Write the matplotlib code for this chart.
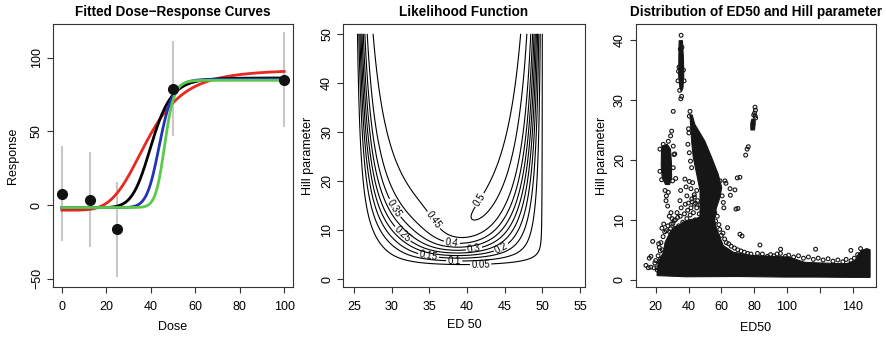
import numpy as np
import matplotlib
matplotlib.use("Agg")
import matplotlib.pyplot as plt

plt.rcParams['font.family'] = ['Liberation Sans', 'DejaVu Sans']

# observed dose-response data
dose = [0, 12.5, 25, 50, 100]
response = [7.8, 3.7, -16.5, 79.1, 85.2]
err_half = [32, 32, 32, 32, 32]

# fitted curves (bottom, top, ED50, Hill)
curve_colors = ['#E8291F', 'black', '#2233BB', '#5CC94A']
curve_bottom = [-3.5, -1.8, -1.8, -1.7]
curve_top = [92, 86.3, 85.5, 84.7]
curve_ed50 = [38.5, 40.5, 44.0, 46.3]
curve_hill = [4.5, 9, 15, 22]

# likelihood settings
lik_bottom = -2.0
lik_top = 86.0
lik_sigma = 17.0
lik_peak = 0.506
lik_levels = [0.05, 0.1, 0.15, 0.2, 0.25, 0.3, 0.35, 0.4, 0.45, 0.5]
label_pos = [(41.8, 3.0), (38.3, 3.65), (34.9, 4.8), (44.5, 6.5), (31.4, 9.1),
             (40.9, 6.4), (30.0, 14.1), (38.0, 7.6), (34.9, 11.3), (42.0, 15.8)]

# posterior sample distribution: dense cores (outlines) and sparse samples
core_a_x = [34.3, 36.3, 36.9, 37.1, 36.6, 35.7, 34.8, 34.0, 34.1]
core_a_y = [39.9, 39.9, 37, 34, 32, 31.4, 32, 34, 37]
core_b_x = [23.8, 27.0, 29.0, 29.6, 29.7, 28.5, 26.0, 24.0, 23.4, 23.5]
core_b_y = [22.3, 22.6, 21.8, 19.5, 17.0, 15.9, 15.9, 17.0, 19.0, 21.0]
core_c_x = [40.9, 42.2, 43.9, 47.0, 50.0, 54.1, 58.1, 60.2, 59.2, 57.0, 55.5, 47.0,
            47.0, 45.0, 42.9, 41.9]
core_c_y = [27.5, 27.5, 25.9, 24.5, 23.1, 20.4, 17.6, 15.4, 13.8, 12.0, 10.0, 10.0,
            14.9, 17.6, 20.4, 23.1]
core_d_x = [78.0, 80.2, 80.6, 80.3, 78.6, 77.9]
core_d_y = [25.0, 25.0, 26.0, 26.8, 26.8, 26.0]
core_e_x = [20.8, 38.5, 68.9, 97.7, 118, 138.3, 150.6, 150.6, 148.6, 145.5, 143.5, 141.4,
            136.4, 131, 111, 100.8, 83.5, 77.4, 67.3, 61.2, 57.1, 55.5,
            47.0, 44.5, 40.5, 36.4, 34.8, 31.5, 28.7, 25.7, 24.7, 21.5]
core_e_y = [0.7, 0.5, 0.55, 0.45, 0.45, 0.4, 0.4, 5.0, 5.2, 4.9, 4.3, 3.2,
            2.7, 2.7, 2.9, 3.8, 4.0, 4.1, 4.6, 5.7, 8.5, 10.5,
            10.5, 10.2, 10.0, 9.6, 9.2, 8.8, 7.9, 6.2, 4.6, 2.9]

ed50_pts = [35.5, 35.3, 33.6, 37.3, 36.9, 34.2, 33.9, 35.0, 36.0, 34.6, 35.8,
            # cluster around ED50 ~ 27
            30.7, 29.7, 29.1, 27.7, 22.6, 24.6, 30.7, 31.1, 30.7, 30.3, 25.7,
            27.7, 26.3, 23.6, 22.6, 37.8, 35.2, 34.8, 31.6, 32.2, 27.3, 26.5,
            # left edge of the diagonal band
            40.9, 40.5, 40.5, 41.9, 42.5, 45.0, 43.6, 40.2, 41.2, 39.0, 38.5,
            42.2, 44.2, 41.5, 40.5, 43.5, 39.6, 40.0,
            # right of the band, towards the ED50 ~ 80 cluster
            59.2, 62.2, 65.3, 68.3, 71.3, 69.7, 74.8, 76.4, 75.7, 62.8, 61.2,
            65.5, 68.9, 70.1, 63.8, 71.3, 72.6, 60.5, 61.5,
            80.5, 80.8, 80.2, 80.6, 79.7, 80.9, 79.4,
            # above the main mass
            26.5, 27.5, 28.5, 29.5, 30.0, 31.5, 32.0, 33.0, 34.0, 35.0, 35.5,
            36.5, 37.5, 38.0, 39.0, 39.5, 40.0, 41.0, 41.5, 42.0, 43.0, 43.5,
            44.0, 45.0, 45.5, 46.5, 47.0, 48.0, 52.0, 53.0, 54.0, 55.0, 56.0,
            56.5, 57.5, 58.5, 59.0, 60.0, 61.0, 62.0, 63.0, 64.5, 66.0, 68.0,
            70.0, 72.0, 74.0, 76.0, 78.0, 30.5, 29.0, 31.3, 33.4, 28.3, 29.3,
            # left edge and far-left samples
            20.0, 20.8, 21.5, 22.0, 22.8, 23.2, 24.0, 24.5, 25.5, 21.0, 19.5,
            23.5, 18.2, 17.1, 16.1, 14.1, 15.5, 17.0, 19.0, 22.2, 21.8, 23.8,
            24.9, 23.0,
            # along the top of the tail
            83.5, 96.1, 117.4, 138.9, 144.8,
            82, 85, 88, 90, 92, 94, 96, 99, 101, 104, 107, 110, 113, 116, 119,
            122, 125, 128, 131, 134, 136, 139, 141, 143, 146, 149, 147, 145]
hill_pts = [40.8, 30.2, 33.2, 33.2, 35.0, 35.5, 34.8, 38.5, 38.8, 31.6, 30.6,
            28.1, 24.8, 24.0, 23.1, 21.8, 22.6, 22.3, 20.9, 18.7, 16.5, 14.9,
            14.6, 13.2, 16.7, 18.1, 16.8, 14.9, 13.2, 21.0, 16.9, 12.3, 14.0,
            28.1, 27.3, 21.2, 18.7, 16.2, 14.9, 13.8, 24.5, 19.8, 14.0, 15.5,
            13.0, 12.8, 15.2, 16.4, 14.2, 22.6, 25.2,
            16.5, 16.5, 15.2, 15.0, 17.1, 17.0, 20.8, 22.2, 21.8, 16.1, 12.9,
            14.1, 11.8, 11.9, 8.7, 7.6, 7.3, 14.0, 12.0,
            28.8, 28.3, 27.8, 27.3, 27.5, 27.0, 26.4,
            8.2, 9.0, 8.0, 9.3, 10.2, 8.6, 10.0, 11.2, 9.0, 10.6, 12.0,
            9.6, 11.0, 12.6, 10.2, 11.6, 12.8, 10.8, 12.0, 13.5, 11.2, 12.6,
            10.0, 12.0, 13.2, 11.0, 12.5, 10.2, 11.5, 12.8, 11.0, 12.0, 11.2,
            9.8, 10.6, 9.2, 8.4, 7.4, 7.8, 6.8, 6.2, 6.0, 5.6, 5.3,
            5.0, 4.8, 4.6, 4.4, 4.3, 9.4, 8.5, 9.9, 10.4, 10.6, 11.2,
            3.2, 2.0, 4.0, 3.0, 4.8, 6.2, 5.0, 7.2, 8.0, 1.6, 2.8,
            1.8, 6.4, 3.9, 3.6, 2.4, 2.0, 2.1, 2.0, 5.4, 6.0, 8.6,
            9.3, 3.5,
            5.8, 5.1, 5.1, 4.9, 5.2,
            4.4, 4.3, 3.9, 4.2, 4.0, 4.3, 4.4, 3.9, 4.1, 3.8, 4.0, 3.6, 3.8, 3.4, 3.6,
            3.3, 3.5, 3.1, 3.3, 3.0, 3.4, 3.2, 3.6, 4.2, 4.6, 4.5, 3.8, 3.9]


def hill(x, bottom, top, ed50, h):
    x = np.asarray(x, dtype=float)
    with np.errstate(divide='ignore', over='ignore'):
        r = np.where(x > 0, (ed50 / np.where(x > 0, x, 1.0)) ** h, np.inf)
    return bottom + (top - bottom) / (1.0 + r)


fig = plt.figure(figsize=(8.87, 3.4), dpi=100)
ax1 = fig.add_axes([0.0598, 0.156, 0.2706, 0.772])
ax2 = fig.add_axes([0.3870, 0.156, 0.2722, 0.772])
ax3 = fig.add_axes([0.7170, 0.156, 0.2706, 0.772])

# --- panel 1: fitted curves
ax1.vlines(dose, np.array(response) - err_half, np.array(response) + err_half,
           color='#C8C8C8', lw=1.5, zorder=1)
xs = np.linspace(0, 100, 400)
for c, b, t, e, h in zip(curve_colors, curve_bottom, curve_top, curve_ed50, curve_hill):
    ax1.plot(xs, hill(xs, b, t, e, h), color=c, lw=2, zorder=2)
ax1.plot(dose, response, 'o', color='#111111', ms=7, zorder=3)
ax1.set_xlim(-4, 104)
ax1.set_ylim(-55.6, 122.6)
ax1.set_xticks([0, 20, 40, 60, 80, 100])
ax1.set_yticks([-50, 0, 50, 100])
ax1.set_title('Fitted Dose\u2212Response Curves', fontsize=9.75, fontweight='bold', pad=6)
ax1.set_xlabel('Dose', fontsize=9)
ax1.set_ylabel('Response', fontsize=9)
ax1.xaxis.set_label_coords(0.5, -0.153)
ax1.yaxis.set_label_coords(-0.167, 0.5)

# --- panel 2: likelihood contours
ed_grid = np.linspace(25, 55, 301)
h_grid = np.linspace(0.2, 50, 300)
E, H = np.meshgrid(ed_grid, h_grid)
sse = np.zeros_like(E)
for d, r in zip(dose, response):
    sse += (r - hill(np.full_like(E, d), lik_bottom, lik_top, E, H)) ** 2
lik = np.exp(-(sse - sse.min()) / (2 * lik_sigma ** 2)) * lik_peak
for lev, pos in zip(lik_levels, label_pos):
    cs = ax2.contour(E, H, lik, levels=[lev], colors='black', linewidths=0.8)
    ax2.clabel(cs, manual=[pos], inline=True, fontsize=7,
               fmt=lambda v: f'{v:g}', inline_spacing=2)
ax2.set_xlim(23.6, 55.6)
ax2.set_ylim(-1.6, 51.9)
ax2.set_xticks([25, 30, 35, 40, 45, 50, 55])
ax2.set_yticks([0, 10, 20, 30, 40, 50])
ax2.set_title('Likelihood Function', fontsize=9.75, fontweight='bold', pad=6)
ax2.set_xlabel('ED 50', fontsize=9)
ax2.set_ylabel('Hill parameter', fontsize=9)
ax2.xaxis.set_label_coords(0.5, -0.144)
ax2.yaxis.set_label_coords(-0.146, 0.5)

# --- panel 3: posterior samples
for cx, cy in [(core_a_x, core_a_y), (core_b_x, core_b_y), (core_c_x, core_c_y),
               (core_d_x, core_d_y), (core_e_x, core_e_y)]:
    ax3.fill(cx, cy, color='#161616', lw=0.8, zorder=2)
ax3.scatter(ed50_pts, hill_pts, s=7.5, facecolors='none', edgecolors='#161616',
            linewidths=0.8, zorder=3)
ax3.set_xlim(8, 154.2)
ax3.set_ylim(-1.2, 42.6)
ax3.set_xticks([20, 40, 60, 80, 100, 120, 140])
ax3.set_xticklabels(['20', '40', '60', '80', '100', '', '140'])
ax3.set_yticks([0, 10, 20, 30, 40])
ax3.set_title('Distribution of ED50 and Hill parameter', fontsize=9.75, fontweight='bold', pad=6)
ax3.set_xlabel('ED50', fontsize=9)
ax3.set_ylabel('Hill parameter', fontsize=9)
ax3.xaxis.set_label_coords(0.5, -0.157)
ax3.yaxis.set_label_coords(-0.143, 0.5)

for ax in (ax1, ax2, ax3):
    ax.tick_params(length=4.3, width=0.8, labelsize=9, color='#333333')
    ax.tick_params(axis='x', pad=6)
    ax.tick_params(axis='y', pad=3)
    ax.xaxis.label.set_va('center')
    ax.yaxis.label.set_va('center')
    for lbl in ax.get_yticklabels():
        lbl.set_rotation(90)
        lbl.set_va('center')
    for sp in ax.spines.values():
        sp.set_linewidth(0.8)
        sp.set_color('#333333')

fig.savefig('out.png', dpi=100)
